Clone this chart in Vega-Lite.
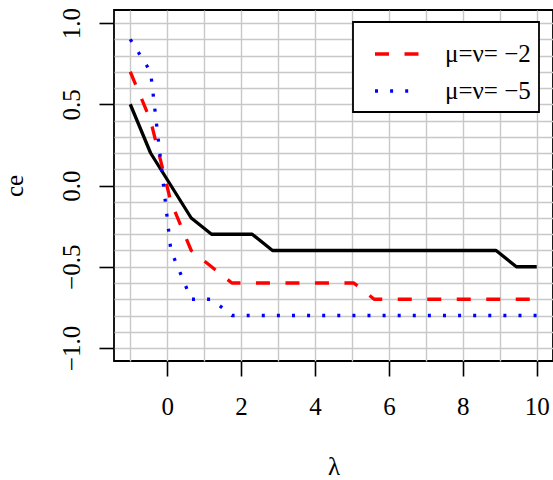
{
  "$schema": "https://vega.github.io/schema/vega-lite/v6.json",
  "autosize": {"type": "none"},
  "padding": {"left": 114, "top": 10, "right": 0, "bottom": 119},
  "width": 439,
  "height": 351,
  "config": {
    "font": "Liberation Serif",
    "view": {"stroke": "black", "strokeWidth": 1.8},
    "legend": {"strokeWidth": 1.8},
    "axis": {
      "domain": false,
      "grid": true,
      "gridColor": "#c8c8c8",
      "gridWidth": 1.4,
      "tickSize": 15,
      "tickWidth": 1.6,
      "labelFont": "Liberation Serif",
      "labelFontSize": 25,
      "labelColor": "black",
      "labelOverlap": false,
      "labelFlush": false,
      "labelBound": false,
      "titleFont": "Liberation Serif",
      "titleFontSize": 25,
      "titleFontWeight": "normal",
      "titleColor": "black"
    }
  },
  "data": {
    "values": [
      {"s": "base", "x": -1, "y": 0.5},
      {"s": "base", "x": -0.45, "y": 0.2},
      {"s": "base", "x": 0.1, "y": 0.0},
      {"s": "base", "x": 0.65, "y": -0.2},
      {"s": "base", "x": 1.2, "y": -0.3},
      {"s": "base", "x": 1.75, "y": -0.3},
      {"s": "base", "x": 2.3, "y": -0.3},
      {"s": "base", "x": 2.85, "y": -0.4},
      {"s": "base", "x": 3.4, "y": -0.4},
      {"s": "base", "x": 3.95, "y": -0.4},
      {"s": "base", "x": 4.5, "y": -0.4},
      {"s": "base", "x": 5.05, "y": -0.4},
      {"s": "base", "x": 5.6, "y": -0.4},
      {"s": "base", "x": 6.15, "y": -0.4},
      {"s": "base", "x": 6.7, "y": -0.4},
      {"s": "base", "x": 7.25, "y": -0.4},
      {"s": "base", "x": 7.8, "y": -0.4},
      {"s": "base", "x": 8.35, "y": -0.4},
      {"s": "base", "x": 8.9, "y": -0.4},
      {"s": "base", "x": 9.45, "y": -0.5},
      {"s": "base", "x": 10, "y": -0.5},
      {"s": "μ=ν= −2", "x": -1, "y": 0.7},
      {"s": "μ=ν= −2", "x": -0.45, "y": 0.4},
      {"s": "μ=ν= −2", "x": 0.1, "y": -0.1},
      {"s": "μ=ν= −2", "x": 0.65, "y": -0.4},
      {"s": "μ=ν= −2", "x": 1.2, "y": -0.5},
      {"s": "μ=ν= −2", "x": 1.75, "y": -0.6},
      {"s": "μ=ν= −2", "x": 2.3, "y": -0.6},
      {"s": "μ=ν= −2", "x": 2.85, "y": -0.6},
      {"s": "μ=ν= −2", "x": 3.4, "y": -0.6},
      {"s": "μ=ν= −2", "x": 3.95, "y": -0.6},
      {"s": "μ=ν= −2", "x": 4.5, "y": -0.6},
      {"s": "μ=ν= −2", "x": 5.05, "y": -0.6},
      {"s": "μ=ν= −2", "x": 5.6, "y": -0.7},
      {"s": "μ=ν= −2", "x": 6.15, "y": -0.7},
      {"s": "μ=ν= −2", "x": 6.7, "y": -0.7},
      {"s": "μ=ν= −2", "x": 7.25, "y": -0.7},
      {"s": "μ=ν= −2", "x": 7.8, "y": -0.7},
      {"s": "μ=ν= −2", "x": 8.35, "y": -0.7},
      {"s": "μ=ν= −2", "x": 8.9, "y": -0.7},
      {"s": "μ=ν= −2", "x": 9.45, "y": -0.7},
      {"s": "μ=ν= −2", "x": 10, "y": -0.7},
      {"s": "μ=ν= −5", "x": -1, "y": 0.9},
      {"s": "μ=ν= −5", "x": -0.45, "y": 0.7},
      {"s": "μ=ν= −5", "x": 0.1, "y": -0.4},
      {"s": "μ=ν= −5", "x": 0.65, "y": -0.7},
      {"s": "μ=ν= −5", "x": 1.2, "y": -0.7},
      {"s": "μ=ν= −5", "x": 1.75, "y": -0.8},
      {"s": "μ=ν= −5", "x": 2.3, "y": -0.8},
      {"s": "μ=ν= −5", "x": 2.85, "y": -0.8},
      {"s": "μ=ν= −5", "x": 3.4, "y": -0.8},
      {"s": "μ=ν= −5", "x": 3.95, "y": -0.8},
      {"s": "μ=ν= −5", "x": 4.5, "y": -0.8},
      {"s": "μ=ν= −5", "x": 5.05, "y": -0.8},
      {"s": "μ=ν= −5", "x": 5.6, "y": -0.8},
      {"s": "μ=ν= −5", "x": 6.15, "y": -0.8},
      {"s": "μ=ν= −5", "x": 6.7, "y": -0.8},
      {"s": "μ=ν= −5", "x": 7.25, "y": -0.8},
      {"s": "μ=ν= −5", "x": 7.8, "y": -0.8},
      {"s": "μ=ν= −5", "x": 8.35, "y": -0.8},
      {"s": "μ=ν= −5", "x": 8.9, "y": -0.8},
      {"s": "μ=ν= −5", "x": 9.45, "y": -0.8},
      {"s": "μ=ν= −5", "x": 10, "y": -0.8}
    ]
  },
  "encoding": {
    "x": {
      "field": "x", "type": "quantitative",
      "scale": {"domain": [-1.44, 10.44], "nice": false, "zero": false},
      "axis": {
        "title": "λ",
        "values": [-1, 0, 1, 2, 3, 4, 5, 6, 7, 8, 9, 10],
        "labelExpr": "datum.value >= 0 && datum.value % 2 == 0 ? datum.label : ''",
        "tickColor": {"condition": {"test": "datum.value >= 0 && datum.value % 2 == 0", "value": "black"}, "value": "transparent"},
        "labelBaseline": "alphabetic",
        "labelPadding": 38,
        "titlePadding": 35
      }
    },
    "y": {
      "field": "y", "type": "quantitative",
      "scale": {"domain": [-1.08, 1.08], "nice": false, "zero": false},
      "axis": {
        "title": "ce",
        "values": [-1, -0.9, -0.8, -0.7, -0.6, -0.5, -0.4, -0.3, -0.2, -0.1, 0, 0.1, 0.2, 0.3, 0.4, 0.5, 0.6, 0.7, 0.8, 0.9, 1],
        "labelExpr": "abs(datum.value * 2 - round(datum.value * 2)) < 0.000001 ? format(datum.value, '.1f') : ''",
        "tickColor": {"condition": {"test": "abs(datum.value * 2 - round(datum.value * 2)) < 0.000001", "value": "black"}, "value": "transparent"},
        "labelAngle": -90,
        "labelAlign": "center",
        "labelBaseline": "alphabetic",
        "labelPadding": 20,
        "titlePadding": 32
      }
    }
  },
  "layer": [
    {
      "transform": [{"filter": "datum.s == 'base'"}],
      "mark": {"type": "line", "color": "black", "strokeWidth": 3.3, "strokeJoin": "round"}
    },
    {
      "transform": [{"filter": "datum.s != 'base'"}],
      "mark": {"type": "line", "strokeWidth": 3.3, "strokeJoin": "round"},
      "encoding": {
        "color": {
          "field": "s", "type": "nominal",
          "scale": {"domain": ["μ=ν= −2", "μ=ν= −5"], "range": ["#ff0000", "#0000ff"]},
          "legend": {
            "title": null,
            "orient": "none",
            "legendX": 239,
            "legendY": 12,
            "fillColor": "white",
            "strokeColor": "black",
            "padding": 8,
            "symbolOffset": 12,
            "symbolType": "stroke",
            "symbolSize": 1936,
            "symbolStrokeWidth": 3.3,
            "labelFont": "Liberation Serif",
            "labelFontSize": 25,
            "labelColor": "black",
            "labelOffset": 24,
            "labelLimit": 300,
            "rowPadding": -14
          }
        },
        "strokeDash": {
          "field": "s", "type": "nominal",
          "scale": {"domain": ["μ=ν= −2", "μ=ν= −5"], "range": [[14, 15.5], [3, 12.1]]},
          "legend": {"title": null}
        }
      }
    }
  ]
}
